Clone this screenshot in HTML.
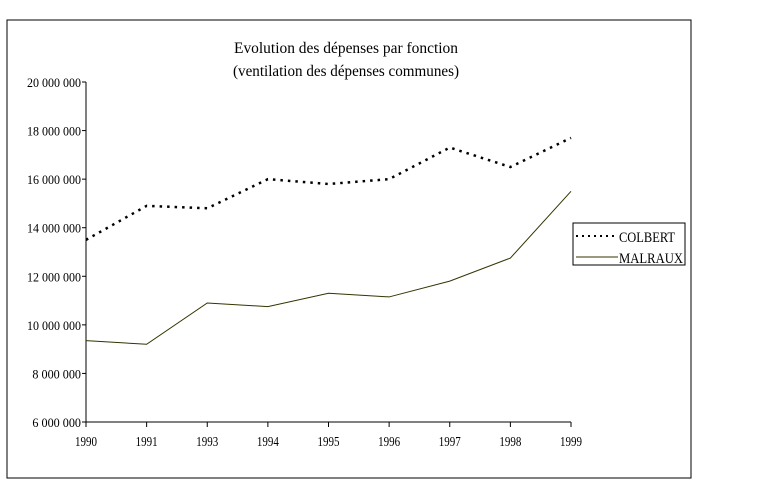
<!DOCTYPE html>
<html><head><meta charset="utf-8"><style>
html,body{margin:0;padding:0;background:#fff;}
svg{display:block;font-family:"Liberation Serif",serif;}
</style></head><body>
<svg id="chart" width="776" height="496">
<rect x="7" y="20" width="684" height="458" fill="none" stroke="#000" stroke-width="1"/>
<text x="346" y="53" text-anchor="middle" font-size="16" textLength="224" lengthAdjust="spacingAndGlyphs">Evolution des dépenses par fonction</text>
<text x="346" y="76" text-anchor="middle" font-size="16" textLength="226" lengthAdjust="spacingAndGlyphs">(ventilation des dépenses communes)</text>
<g id="axes"></g>
<g id="series"></g>
<rect x="573" y="223" width="112" height="42" fill="#fff" stroke="#000"/>
<line x1="576" y1="236" x2="618" y2="236" stroke="#000" stroke-width="2" stroke-dasharray="2,4"/>
<text x="619" y="242" font-size="15" textLength="56" lengthAdjust="spacingAndGlyphs">COLBERT</text>
<line x1="576" y1="257" x2="618" y2="257" stroke="#333300" stroke-width="1"/>
<text x="619" y="263" font-size="15" textLength="64" lengthAdjust="spacingAndGlyphs">MALRAUX</text>
</svg>
<script>
const categories=["1990","1991","1993","1994","1995","1996","1997","1998","1999"];
const colbert=[13.5,14.9,14.8,16.0,15.8,16.0,17.3,16.5,17.7];
const malraux=[9.35,9.2,10.9,10.75,11.3,11.15,11.8,12.75,15.5];
const yTicks=[6,8,10,12,14,16,18,20];
const yTickLabels=["6 000 000","8 000 000","10 000 000","12 000 000","14 000 000","16 000 000","18 000 000","20 000 000"];
const NS="http://www.w3.org/2000/svg";
const x0=86,x1=571,yTop=82,yBot=422,yMin=6,yMax=20;
function xs(i){return x0+(x1-x0)*i/(categories.length-1);}
function ys(v){return yBot-(v-yMin)/(yMax-yMin)*(yBot-yTop);}
function mk(tag,attrs,parent){const e=document.createElementNS(NS,tag);for(const k in attrs)e.setAttribute(k,attrs[k]);parent.appendChild(e);return e;}
const axes=document.getElementById('axes');
let a=mk('line',{x1:x0,y1:yTop,x2:x0,y2:yBot,stroke:'#000'},axes);


a=mk('line',{x1:x0,y1:yBot,x2:x1,y2:yBot,stroke:'#000'},axes);


yTicks.forEach((v,i)=>{
 const t=mk('line',{x1:x0-4,y1:ys(v),x2:x0,y2:ys(v),stroke:'#000'},axes);
 
 
 const l=mk('text',{x:x0-5,y:ys(v)+5,'text-anchor':'end','font-size':'13',textLength:yTickLabels[i].length*5.4,lengthAdjust:'spacingAndGlyphs'},axes);
 l.textContent=yTickLabels[i];
 
 
});
categories.forEach((c,i)=>{
 const t=mk('line',{x1:xs(i),y1:yBot,x2:xs(i),y2:yBot+5,stroke:'#000'},axes);
 
 
 const l=mk('text',{x:xs(i),y:yBot+24,'text-anchor':'middle','font-size':'14',textLength:'22',lengthAdjust:'spacingAndGlyphs'},axes);
 l.textContent=c;
 
 
});
const ser=document.getElementById('series');
let p=mk('polyline',{points:colbert.map((v,i)=>xs(i)+','+ys(v)).join(' '),fill:'none',stroke:'#000','stroke-width':'2.5','stroke-dasharray':'2.5,5'},ser);


p=mk('polyline',{points:malraux.map((v,i)=>xs(i)+','+ys(v)).join(' '),fill:'none',stroke:'#333300','stroke-width':'1'},ser);


</script>
</body></html>
